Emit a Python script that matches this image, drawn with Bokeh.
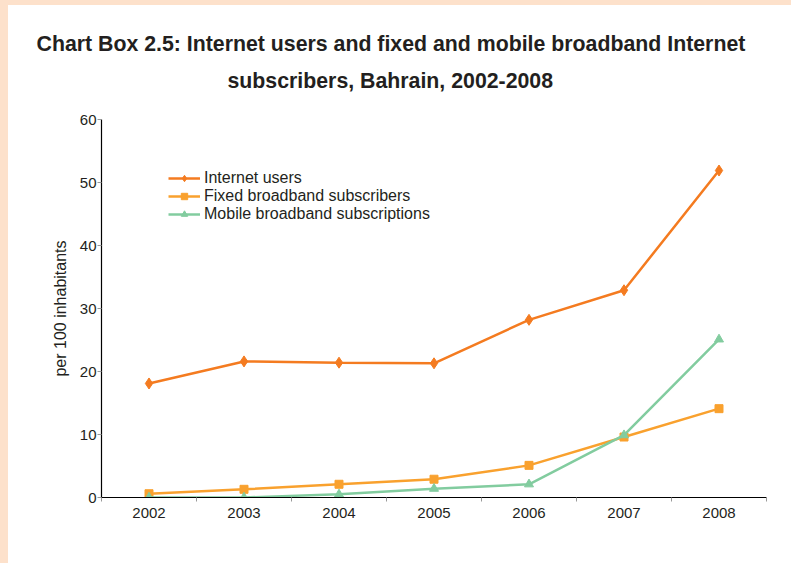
from bokeh.plotting import figure
from bokeh.models import FixedTicker, Legend, LegendItem, Title
from bokeh.embed import file_html
from bokeh.resources import INLINE

years = [2002, 2003, 2004, 2005, 2006, 2007, 2008]
internet_users = [18.1, 21.6, 21.4, 21.3, 28.2, 32.9, 51.9]
fixed_broadband = [0.6, 1.3, 2.1, 2.9, 5.1, 9.6, 14.1]
mobile_broadband = [0.0, 0.0, 0.5, 1.4, 2.1, 9.9, 25.1]
series_names = ["Internet users", "Fixed broadband subscribers", "Mobile broadband subscriptions"]
title_lines = ["Chart Box 2.5: Internet users and fixed and mobile broadband Internet",
               "subscribers, Bahrain, 2002-2008"]
y_ticks = [0, 10, 20, 30, 40, 50, 60]

c_internet = "#F47B20"
c_fixed = "#F9A12E"
c_mobile = "#82CC9F"
FONT = "Liberation Sans"
TXT = "#231F20"

p = figure(width=791, height=563, output_backend="svg", toolbar_location=None,
           x_range=(2001.5, 2008.5), y_range=(0, 60), title=None,
           min_border_left=101, min_border_right=25, min_border_top=119, min_border_bottom=66)

t2 = Title(text=title_lines[1], align="left", offset=126, text_font=FONT, text_font_size="21.3px",
           text_font_style="bold", text_color=TXT, standoff=53, text_line_height=0.5)
t1 = Title(text=title_lines[0], align="left", offset=-65, text_font=FONT, text_font_size="21.3px",
           text_font_style="bold", text_color=TXT, standoff=-30)
p.add_layout(t2, "above")
p.add_layout(t1, "above")

p.outline_line_color = None
p.xgrid.grid_line_color = None
p.ygrid.grid_line_color = None
p.background_fill_color = "white"
p.border_fill_alpha = 0

# x axis
p.xaxis.ticker = FixedTicker(ticks=years, minor_ticks=[y - 0.5 for y in years] + [years[-1] + 0.5])
p.xaxis.major_tick_line_color = None
p.xaxis.major_tick_in = 0
p.xaxis.major_tick_out = 0
p.xaxis.minor_tick_line_color = "#999999"
p.xaxis.minor_tick_in = 0
p.xaxis.minor_tick_out = 4
p.xaxis.axis_line_color = "black"
p.xaxis.axis_line_width = 1.2
p.xaxis.major_label_text_font = FONT
p.xaxis.major_label_text_font_size = "15px"
p.xaxis.major_label_text_color = TXT
p.xaxis.major_label_standoff = 6

# y axis
p.yaxis.ticker = FixedTicker(ticks=y_ticks)
p.yaxis.minor_tick_line_color = None
p.yaxis.major_tick_line_color = "#999999"
p.yaxis.major_tick_in = 0
p.yaxis.major_tick_out = 4
p.yaxis.axis_line_color = "black"
p.yaxis.axis_line_width = 1.2
p.yaxis.major_label_text_font = FONT
p.yaxis.major_label_text_font_size = "15px"
p.yaxis.major_label_text_color = TXT
p.yaxis.major_label_standoff = 1
p.yaxis.axis_label = "per 100 inhabitants"
p.yaxis.axis_label_text_font = FONT
p.yaxis.axis_label_text_font_size = "16px"
p.yaxis.axis_label_text_font_style = "normal"
p.yaxis.axis_label_text_color = TXT
p.yaxis.axis_label_standoff = 8

l1 = p.line(years, internet_users, line_color=c_internet, line_width=2.5)
m1 = p.scatter(years, internet_users, marker="diamond", size=11, fill_color=c_internet, line_color=c_internet)
l2 = p.line(years, fixed_broadband, line_color=c_fixed, line_width=2.5)
m2 = p.scatter(years, fixed_broadband, marker="square", size=8, fill_color=c_fixed, line_color=c_fixed)
l3 = p.line(years, mobile_broadband, line_color=c_mobile, line_width=2.5)
m3 = p.scatter(years, mobile_broadband, marker="triangle", size=9, fill_color=c_mobile, line_color=c_mobile)

legend = Legend(items=[
    LegendItem(label=series_names[0], renderers=[l1, m1]),
    LegendItem(label=series_names[1], renderers=[l2, m2]),
    LegendItem(label=series_names[2], renderers=[l3, m3]),
], location=(67, 274))
legend.border_line_color = None
legend.background_fill_alpha = 0
legend.label_text_font = FONT
legend.label_text_font_size = "16px"
legend.label_text_color = TXT
legend.glyph_width = 32
legend.glyph_height = 16
legend.label_height = 16
legend.spacing = 0
legend.padding = 0
legend.margin = 0
legend.label_standoff = 4
p.add_layout(legend)

html = file_html(p, INLINE, title="Chart Box 2.5")
style = ("<style>html,body{background:"
         "linear-gradient(#FDE1CB,#FDE1CB) 0 0/100% 5px no-repeat,"
         "linear-gradient(#FDE1CB,#FDE1CB) 0 0/8px 100% no-repeat,#ffffff;}</style>")
html = html.replace("</head>", style + "</head>", 1)
open("out.html", "w").write(html)
